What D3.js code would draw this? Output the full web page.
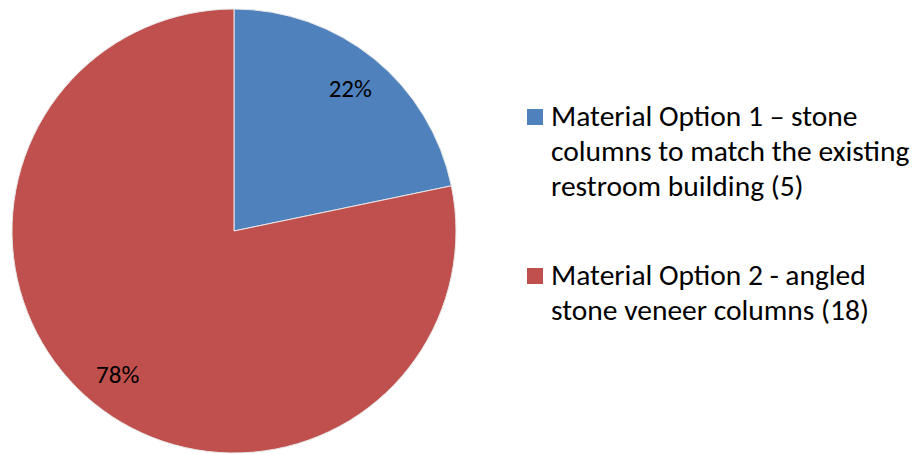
<!DOCTYPE html>
<html>
<head>
<meta charset="utf-8">
<script src="https://cdn.jsdelivr.net/npm/d3@7"></script>
<style>
  body { margin: 0; background: #fff; }
  text { font-family: Calibri, Carlito, Lato, sans-serif; fill: #000; }
</style>
</head>
<body>
<script>
const categories = [
    'Material Option 1 – stone columns to match the existing restroom building (5)',
    'Material Option 2 - angled stone veneer columns (18)'
]
const legendLines = [
    ['Material Option 1 – stone', 'columns to match the existing', 'restroom building (5)'],
    ['Material Option 2 - angled', 'stone veneer columns (18)']
]
const values = [5, 18]
const colors = ['#4F81BD', '#C0504D']

const dimensions = {
    width: 913,
    height: 454
}

const svg = d3.select('body').append('svg')
    .attr('width', dimensions.width)
    .attr('height', dimensions.height)

const radius = 222
const g = svg.append('g')
    .attr('transform', 'translate(234,231)')

const pie = d3.pie().sort(null).value(d => d)
const arcs = pie(values)
const total = d3.sum(values)

const arc = d3.arc().innerRadius(0).outerRadius(radius)
const labelArc = d3.arc().innerRadius(radius * 0.83).outerRadius(radius * 0.83)

g.selectAll('path')
    .data(arcs)
    .enter()
    .append('path')
    .attr('d', arc)
    .attr('fill', (d, i) => colors[i])
    .attr('stroke', '#e8e8e8')
    .attr('stroke-width', 1)

g.selectAll('.label')
    .data(arcs)
    .enter()
    .append('text')
    .attr('class', 'label')
    .attr('x', d => labelArc.centroid(d)[0])
    .attr('y', d => labelArc.centroid(d)[1])
    .attr('dy', '0.35em')
    .attr('text-anchor', 'middle')
    .style('font-size', '25px')
    .text(d => Math.round(d.data / total * 100) + '%')

// legend
const legendTop = [109, 268]
const legend = svg.selectAll('.legend')
    .data(categories)
    .enter()
    .append('g')
    .attr('class', 'legend')
    .attr('transform', (d, i) => 'translate(527,' + legendTop[i] + ')')

legend.append('rect')
    .attr('width', 16)
    .attr('height', 16)
    .attr('fill', (d, i) => colors[i])

legend.append('text')
    .attr('x', 24)
    .style('font-size', '29.5px')
    .selectAll('tspan')
    .data((d, i) => legendLines[i])
    .enter()
    .append('tspan')
    .attr('x', 24)
    .attr('y', (d, j) => 17 + j * 35)
    .text(d => d)
</script>
</body>
</html>
